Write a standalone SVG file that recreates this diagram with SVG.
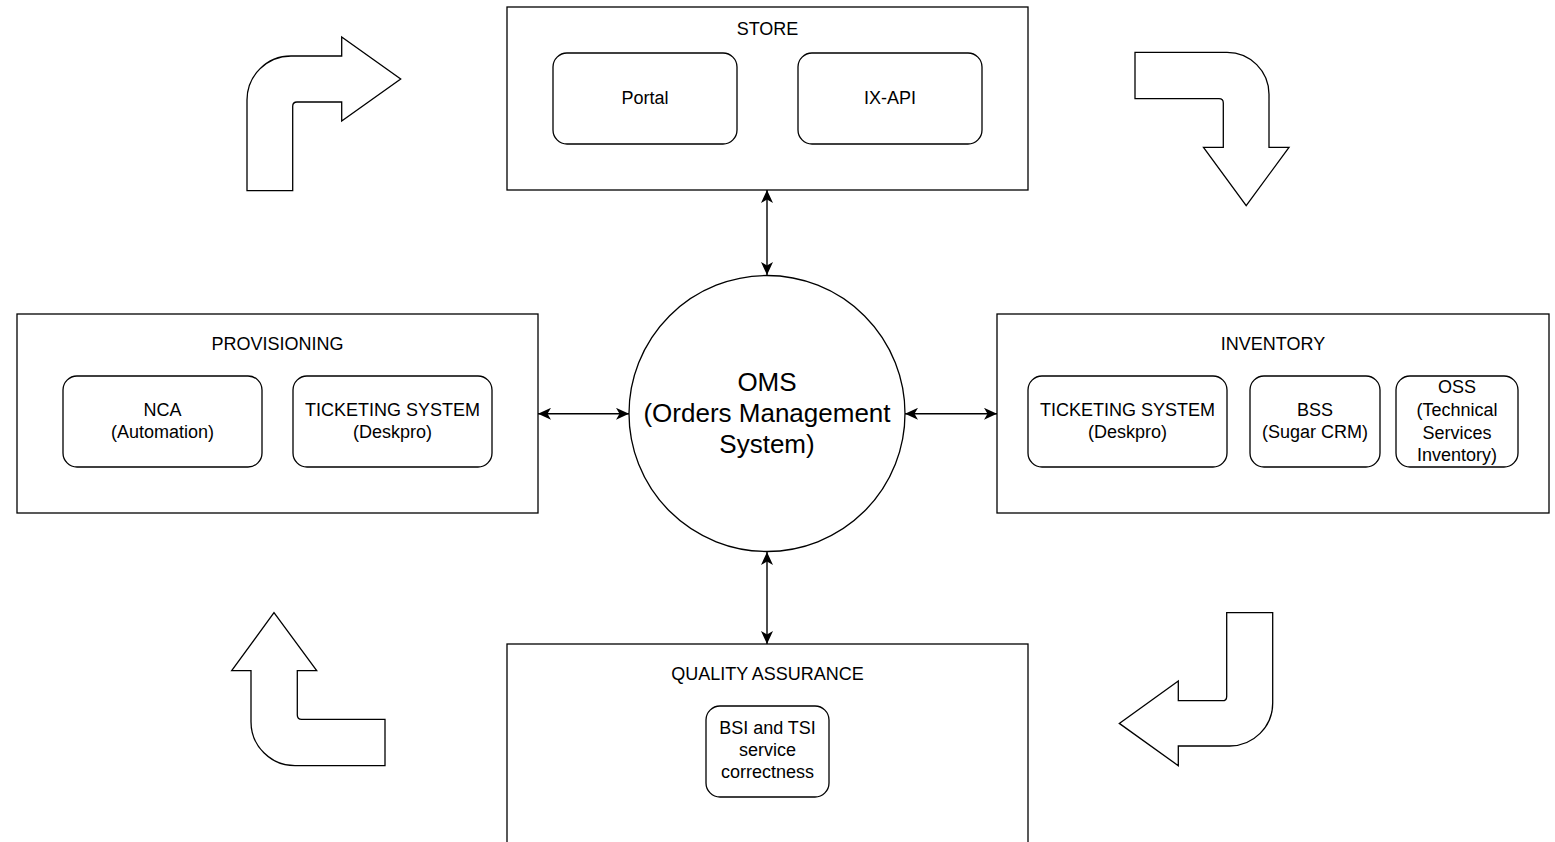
<svg xmlns="http://www.w3.org/2000/svg" width="1555" height="842" viewBox="0 0 1555 842">
  <style>
    .frame { fill: #ffffff; stroke: #000000; stroke-width: 1.3; }
    .item { fill: #ffffff; stroke: #000000; stroke-width: 1.3; }
    .flow { fill: #ffffff; stroke: #000000; stroke-width: 1.3; stroke-linejoin: miter; }
    .link { fill: none; stroke: #000000; stroke-width: 1.4; marker-start: url(#tip); marker-end: url(#tip); }
    text { font-family: "Liberation Sans", Helvetica, Arial, sans-serif; fill: #000000; text-anchor: middle; }
    .lbl { font-size: 18px; }
    .big { font-size: 26px; }
  </style>
  <defs>
    <marker id="tip" markerUnits="userSpaceOnUse" markerWidth="13" markerHeight="12" refX="13" refY="6" orient="auto-start-reverse">
      <path d="M0,0 L13,6 L0,12 L3.5,6 Z" fill="#000000"/>
    </marker>
  </defs>
  <rect width="1555" height="842" fill="#ffffff"/>

  <!-- cycle arrows -->
  <g id="cycle-arrows">
    <path class="flow" d="M247 190.7 L247 100 A44 44 0 0 1 291 56 L341.7 56 L341.7 37 L400.7 79 L341.7 121 L341.7 102 L297 102 Q292.7 102 292.7 106.3 L292.7 190.7 Z"/>
    <path class="flow" d="M1135 52.3 L1227 52.3 A42 42 0 0 1 1269 94.3 L1269 147.3 L1289 147.3 L1246.2 205.7 L1203.5 147.3 L1223.3 147.3 L1223.3 103 Q1223.3 98.7 1219 98.7 L1135 98.7 Z"/>
    <path class="flow" d="M274 612.7 L316.7 670.7 L297.3 670.7 L297.3 715 Q297.3 719.3 301.6 719.3 L385 719.3 L385 765.7 L295 765.7 A44 44 0 0 1 251 721.7 L251 670.7 L231.7 670.7 Z"/>
    <path class="flow" d="M1226.7 612.7 L1272.7 612.7 L1272.7 703 A43 43 0 0 1 1229.7 746 L1178.3 746 L1178.3 765.7 L1119.3 723.4 L1178.3 681 L1178.3 700.7 L1222.4 700.7 Q1226.7 700.7 1226.7 696.4 Z"/>
  </g>

  <!-- connectors -->
  <g id="connectors">
    <line class="link" x1="767" y1="190" x2="767" y2="275"/>
    <line class="link" x1="767" y1="552" x2="767" y2="644"/>
    <line class="link" x1="538" y1="413.8" x2="629" y2="413.8"/>
    <line class="link" x1="905" y1="413.8" x2="997" y2="413.8"/>
  </g>

  <g id="store">
    <rect class="frame" x="507" y="7" width="521" height="183"/>
    <text class="lbl" x="767.5" y="35.4">STORE</text>
    <g id="portal">
      <rect class="item" x="553" y="53" width="184" height="91" rx="14"/>
      <text class="lbl" x="645" y="104.4">Portal</text>
    </g>
    <g id="ix-api">
      <rect class="item" x="798" y="53" width="184" height="91" rx="14"/>
      <text class="lbl" x="890" y="104.4">IX-API</text>
    </g>
  </g>

  <g id="oms">
    <circle class="item" cx="767" cy="413.5" r="138"/>
    <text class="big" x="767" y="391.3">OMS</text>
    <text class="big" x="767" y="422.3">(Orders Management</text>
    <text class="big" x="767" y="453.3">System)</text>
  </g>

  <g id="provisioning">
    <rect class="frame" x="17" y="314" width="521" height="199"/>
    <text class="lbl" x="277.5" y="350.4">PROVISIONING</text>
    <g id="nca">
      <rect class="item" x="63" y="376" width="199" height="91" rx="14"/>
      <text class="lbl" x="162.5" y="416.4">NCA</text>
      <text class="lbl" x="162.5" y="438.4">(Automation)</text>
    </g>
    <g id="prov-ticketing">
      <rect class="item" x="293" y="376" width="199" height="91" rx="14"/>
      <text class="lbl" x="392.5" y="416.4">TICKETING SYSTEM</text>
      <text class="lbl" x="392.5" y="438.4">(Deskpro)</text>
    </g>
  </g>

  <g id="inventory">
    <rect class="frame" x="997" y="314" width="552" height="199"/>
    <text class="lbl" x="1273" y="350.4">INVENTORY</text>
    <g id="inv-ticketing">
      <rect class="item" x="1028" y="376" width="199" height="91" rx="14"/>
      <text class="lbl" x="1127.5" y="416.4">TICKETING SYSTEM</text>
      <text class="lbl" x="1127.5" y="438.4">(Deskpro)</text>
    </g>
    <g id="bss">
      <rect class="item" x="1250" y="376" width="130" height="91" rx="14"/>
      <text class="lbl" x="1315" y="416.4">BSS</text>
      <text class="lbl" x="1315" y="438.4">(Sugar CRM)</text>
    </g>
    <g id="oss">
      <rect class="item" x="1396" y="376" width="122" height="91" rx="14"/>
      <text class="lbl" x="1457" y="393.4">OSS</text>
      <text class="lbl" x="1457" y="416">(Technical</text>
      <text class="lbl" x="1457" y="438.6">Services</text>
      <text class="lbl" x="1457" y="461.2">Inventory)</text>
    </g>
  </g>

  <g id="quality-assurance">
    <rect class="frame" x="507" y="644" width="521" height="205"/>
    <text class="lbl" x="767.5" y="680.4">QUALITY ASSURANCE</text>
    <g id="bsi-tsi">
      <rect class="item" x="706" y="706" width="123" height="91" rx="14"/>
      <text class="lbl" x="767.5" y="734.4">BSI and TSI</text>
      <text class="lbl" x="767.5" y="756.4">service</text>
      <text class="lbl" x="767.5" y="778.4">correctness</text>
    </g>
  </g>
</svg>
